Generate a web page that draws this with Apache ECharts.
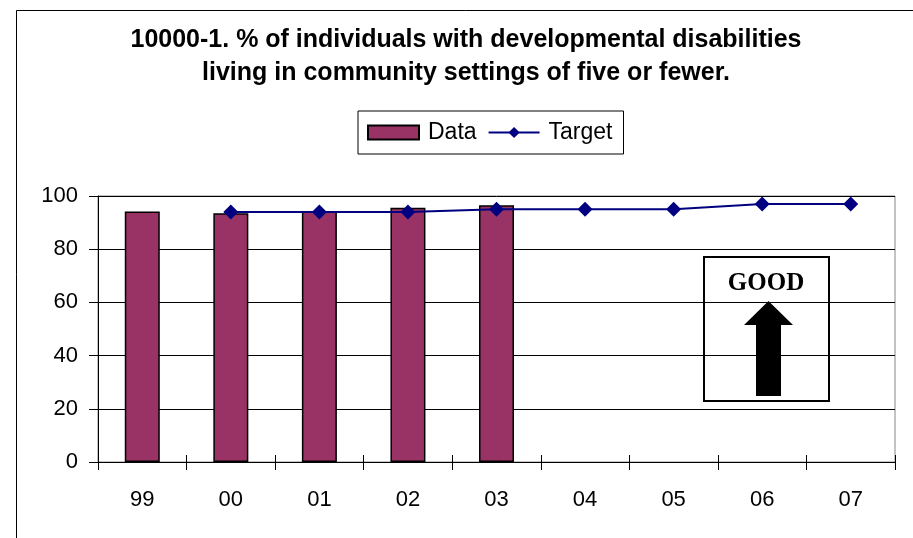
<!DOCTYPE html>
<html>
<head>
<meta charset="utf-8">
<script src="https://cdn.jsdelivr.net/npm/echarts@6/dist/echarts.min.js"></script>
<style>
  html, body { margin: 0; padding: 0; background: #fff; }
  #chart { width: 913px; height: 538px; }
</style>
</head>
<body>
<div id="chart"></div>
<script>
// Fiscal years on the category axis
const years = ['99', '00', '01', '02', '03', '04', '05', '06', '07'];
// Actual percentage by year (reported through 03)
const dataValues = [94.2, 93.5, 94.2, 95.6, 96.5, null, null, null, null];
// Target percentage by year (set from 00 onward)
const targetValues = [null, 94, 94, 94, 95, 95, 95, 97, 97];
// Value axis ticks
const yMin = 0, yMax = 100, yStep = 20;

const chart = echarts.init(document.getElementById('chart'));

const font = '"Liberation Sans", Arial, sans-serif';

chart.setOption({
  animation: false,
  backgroundColor: '#ffffff',
  title: {
    text: '10000-1. % of individuals with developmental disabilities\nliving in community settings of five or fewer.',
    left: 461,
    top: 19,
    textAlign: 'center',
    textStyle: {
      fontFamily: font,
      fontSize: 25,
      fontWeight: 'bold',
      color: '#000',
      lineHeight: 33
    }
  },
  legend: {
    left: 358,
    top: 111,
    padding: [10, 11, 10, 9],
    itemGap: 11,
    itemWidth: 51,
    itemHeight: 14,
    borderColor: '#000',
    borderWidth: 1,
    textStyle: { fontFamily: font, fontSize: 23, color: '#000', padding: [0, 0, 0, 4] },
    data: [
      { name: 'Data', icon: 'rect' },
      { name: 'Target' }
    ]
  },
  grid: {
    left: 98,
    right: 18,
    top: 196,
    bottom: 76,
    show: true,
    borderColor: '#888',
    borderWidth: 1
  },
  xAxis: [
    {
      type: 'category',
      data: years,
      boundaryGap: true,
      axisLine: { lineStyle: { color: '#000', width: 1 } },
      axisTick: { show: true, alignWithLabel: false, length: 8, lineStyle: { color: '#000' } },
      axisLabel: { fontFamily: font, fontSize: 22, color: '#000', margin: 27 }
    },
    {
      type: 'category',
      data: years,
      position: 'bottom',
      boundaryGap: true,
      axisLine: { show: false },
      axisTick: { show: true, inside: true, alignWithLabel: false, length: 7, lineStyle: { color: '#000' } },
      axisLabel: { show: false }
    }
  ],
  yAxis: {
    type: 'value',
    min: yMin,
    max: yMax,
    interval: yStep,
    axisLine: { show: true, lineStyle: { color: '#000', width: 1 } },
    axisTick: { show: true, length: 9, lineStyle: { color: '#000' } },
    axisLabel: { fontFamily: font, fontSize: 22, color: '#000', margin: 20 },
    splitLine: { show: true, lineStyle: { color: '#000', width: 1 } }
  },
  series: [
    {
      name: 'Data',
      type: 'bar',
      data: dataValues,
      barWidth: 35,
      itemStyle: { color: '#993366', borderColor: '#000', borderWidth: 1.5 }
    },
    {
      name: 'Target',
      type: 'line',
      data: targetValues,
      symbol: 'diamond',
      symbolSize: 15,
      lineStyle: { color: '#000080', width: 2 },
      itemStyle: { color: '#000080' }
    }
  ],
  graphic: [
    {
      // outer chart frame
      type: 'rect',
      shape: { x: 16.5, y: 10.5, width: 1000, height: 1000 },
      style: { fill: null, stroke: '#000', lineWidth: 1 },
      silent: true,
      z: 100
    },
    {
      type: 'group',
      z: 100,
      children: [
        {
          type: 'rect',
          shape: { x: 704, y: 257, width: 125, height: 144 },
          style: { fill: '#fff', stroke: '#000', lineWidth: 2 }
        },
        {
          type: 'text',
          style: {
            x: 766, y: 284,
            text: 'GOOD',
            fill: '#000',
            font: 'bold 25px "Liberation Serif", "Times New Roman", serif',
            textAlign: 'center',
            textVerticalAlign: 'middle'
          }
        },
        {
          type: 'polygon',
          shape: {
            points: [[768.5, 301], [793, 325], [781, 325], [781, 396], [756, 396], [756, 325], [744, 325]]
          },
          style: { fill: '#000' }
        }
      ]
    }
  ]
});
</script>
</body>
</html>
